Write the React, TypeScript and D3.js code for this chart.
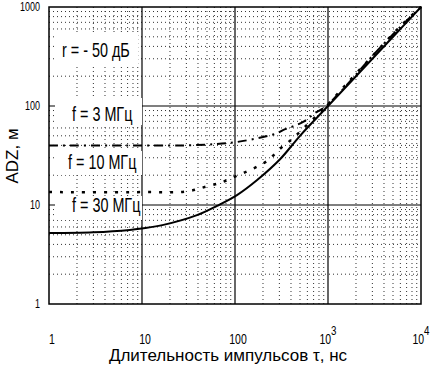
import React from "react";
import * as d3 from "d3";

// ---- data ----
const xTicks = [1, 10, 100, 1000, 10000];
const xTickLabels = ["1", "10", "100", "10|3", "10|4"];
const yTicks = [1, 10, 100, 1000];
const yTickLabels = ["1", "10", "100", "1000"];

const tau30: number[] = [1, 3, 7.4, 10, 17, 39, 64, 105, 173, 305, 500, 1000, 2000, 5000, 10000];
const adz30: number[] = [5.2, 5.3, 5.6, 5.8, 6.3, 7.9, 9.8, 12.6, 17.9, 29, 50, 100, 200, 500, 1000];

const tau3: number[] = [1, 10, 30, 64, 105, 200, 283, 328, 540, 725, 929, 1450, 3000, 6000, 10000];
const adz3: number[] = [40, 40, 40, 41.3, 43.3, 48.6, 53, 57, 69, 85, 98, 148, 320, 630, 1000];

const tau10: number[] = [1, 10, 30, 51, 74, 108, 152, 221, 305, 418, 590, 800, 1000, 1500, 3000, 6000, 10000];
const adz10: number[] = [13.5, 13.5, 13.7, 15.5, 17.1, 20, 23, 27.8, 37, 47, 64, 84, 104, 158, 320, 640, 1000];

const annotations = ["r = - 50 дБ", "f = 3 МГц", "f = 10 МГц", "f = 30 МГц"];
const xTitle = "Длительность импульсов τ, нс";
const yTitle = "ADZ, м";

const W = 434, H = 370;
const L = 49, R = 421, T = 7, B = 304;

const sans = "'Liberation Sans', Arial, sans-serif";
const NX = 0.72; // horizontal squeeze to mimic a narrow face

export default function App() {
  const x = d3.scaleLog().domain([1, 10000]).range([L, R]);
  const y = d3.scaleLog().domain([1, 1000]).range([B, T]);

  const minorX: number[] = [];
  for (const d of [1, 10, 100, 1000]) for (let k = 2; k <= 9; k++) minorX.push(k * d);
  const minorY: number[] = [];
  for (const d of [1, 10, 100]) for (let k = 2; k <= 9; k++) minorY.push(k * d);

  const line = d3
    .line<[number, number]>()
    .x((d) => x(d[0]))
    .y((d) => y(d[1]))
    .curve(d3.curveCatmullRom.alpha(0.5));

  const s30 = line(tau30.map((t, i) => [t, adz30[i]] as [number, number])) || "";
  const s3 = line(tau3.map((t, i) => [t, adz3[i]] as [number, number])) || "";
  const s10 = line(tau10.map((t, i) => [t, adz10[i]] as [number, number])) || "";

  // annotation boxes: [text, boxX, boxY, boxW, boxH, textX, baselineY]
  const ann: [string, number, number, number, number, number, number][] = [
    [annotations[0], 55, 34, 83, 30, 62, 57],
    [annotations[1], 55, 98, 87, 27, 72, 121],
    [annotations[2], 55, 151, 87, 24, 68, 169],
    [annotations[3], 55, 196, 87, 24, 72, 212],
  ];

  return (
    <svg width={W} height={H} style={{ position: "absolute", left: 0, top: 0, background: "#fff" }}>
      <rect x={0} y={0} width={W} height={H} fill="#fff" />
      {/* minor grid */}
      <g stroke="#000" strokeWidth={1} strokeDasharray="1 3" opacity={0.8}>
        {minorX.map((v) => (
          <line key={"mx" + v} x1={x(v)} x2={x(v)} y1={T} y2={B} />
        ))}
        {minorY.map((v) => (
          <line key={"my" + v} x1={L} x2={R} y1={y(v)} y2={y(v)} />
        ))}
      </g>
      {/* major grid */}
      <g stroke="#000" strokeWidth={1.2}>
        {[10, 100, 1000].map((v) => (
          <line key={"Mx" + v} x1={x(v)} x2={x(v)} y1={T} y2={B} />
        ))}
        {[10, 100].map((v) => (
          <line key={"My" + v} x1={L} x2={R} y1={y(v)} y2={y(v)} />
        ))}
      </g>
      {/* annotation boxes */}
      {ann.map((a, i) => (
        <rect key={"b" + i} x={a[1]} y={a[2]} width={a[3]} height={a[4]} fill="#fff" />
      ))}
      <rect x={L} y={T} width={R - L} height={B - T} fill="none" stroke="#000" strokeWidth={1.5} />
      {/* curves */}
      <path d={s30} fill="none" stroke="#000" strokeWidth={2} />
      <path d={s10} fill="none" stroke="#000" strokeWidth={2.5} strokeDasharray="3 8" />
      <path d={s3} fill="none" stroke="#000" strokeWidth={2} strokeDasharray="9 5 2 5" />
      {/* annotations */}
      {ann.map((a, i) => (
        <g key={"t" + i} transform={`translate(${a[5]},${a[6]}) scale(${NX},1)`}>
          <text x={0} y={0} fontFamily={sans} fontSize={20} fill="#000">
            {a[0]}
          </text>
        </g>
      ))}
      {/* y ticks */}
      {yTicks.map((v, i) => (
        <g key={"yt" + v} transform={`translate(40,${y(v) + 4}) scale(0.75,1)`}>
          <text x={0} y={0} textAnchor="end" fontFamily={sans} fontSize={12} fill="#000">
            {yTickLabels[i]}
          </text>
        </g>
      ))}
      {/* x ticks */}
      {xTicks.map((v, i) => {
        const parts = xTickLabels[i].split("|");
        return (
          <g key={"xt" + v} transform={`translate(${x(v) + (parts[1] ? 0 : 3)},344) scale(0.75,1)`}>
            <text x={0} y={0} textAnchor="middle" fontFamily={sans} fontSize={14} fill="#000">
              {parts[0]}
              {parts[1] ? (
                <tspan dy={-9} fontSize={13}>
                  {parts[1]}
                </tspan>
              ) : null}
            </text>
          </g>
        );
      })}
      <text x={228} y={361} textAnchor="middle" fontFamily={sans} fontSize={17} fill="#000">
        {xTitle}
      </text>
      <text
        transform={`translate(18,156) rotate(-90)`}
        textAnchor="middle"
        fontFamily={sans}
        fontSize={17}
        fill="#000"
      >
        {yTitle}
      </text>
    </svg>
  );
}
